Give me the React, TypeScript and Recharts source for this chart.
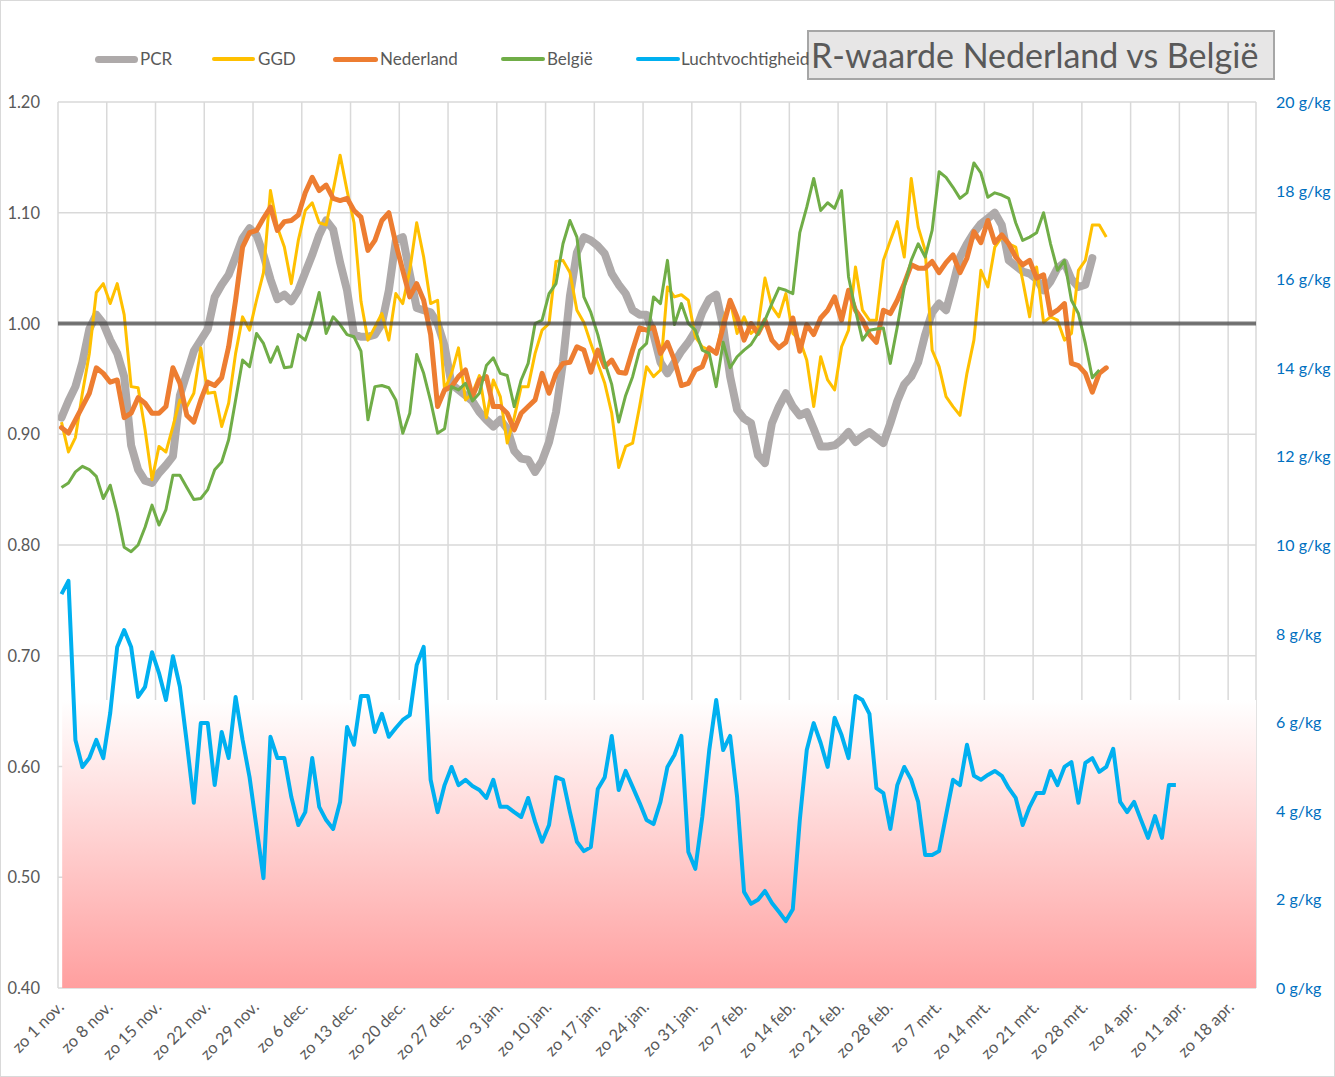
import React from "react";
import {
  ComposedChart,
  Line,
  XAxis,
  YAxis,
  CartesianGrid,
  ReferenceLine,
  ReferenceArea,
} from "recharts";

// Day index 0 = zondag 1 november; 172 day slots on the date axis (points centred in their slot)
const tickLabels = [
  "zo 1 nov.", "zo 8 nov.", "zo 15 nov.", "zo 22 nov.", "zo 29 nov.",
  "zo 6 dec.", "zo 13 dec.", "zo 20 dec.", "zo 27 dec.", "zo 3 jan.",
  "zo 10 jan.", "zo 17 jan.", "zo 24 jan.", "zo 31 jan.", "zo 7 feb.",
  "zo 14 feb.", "zo 21 feb.", "zo 28 feb.", "zo 7 mrt.", "zo 14 mrt.",
  "zo 21 mrt.", "zo 28 mrt.", "zo 4 apr.", "zo 11 apr.", "zo 18 apr.",
];
const tickDays = [0, 7, 14, 21, 28, 35, 42, 49, 56, 63, 70, 77, 84, 91, 98, 105, 112, 119, 126, 133, 140, 147, 154, 161, 168];
const daySlots = 172;

const pcr = [
  0.915, 0.93, 0.943, 0.965, 0.995, 1.008, 1.0, 0.985, 0.973, 0.952,
  0.89, 0.868, 0.858, 0.856, 0.865, 0.872, 0.88, 0.935, 0.955, 0.975,
  0.985, 0.995, 1.024, 1.035, 1.044, 1.06, 1.077, 1.086, 1.08, 1.062,
  1.04, 1.022, 1.026, 1.02, 1.03, 1.046, 1.062, 1.08, 1.093, 1.085,
  1.055, 1.03, 0.99, 0.988, 0.988, 0.99, 1.0, 1.03, 1.075, 1.078,
  1.045, 1.014, 1.012, 1.01, 1.0, 0.98, 0.945, 0.94, 0.935, 0.93,
  0.92, 0.913, 0.907, 0.913, 0.905, 0.885, 0.878, 0.877, 0.866, 0.876,
  0.893, 0.92, 0.965, 1.025, 1.064, 1.078, 1.075, 1.07, 1.063, 1.045,
  1.035, 1.027, 1.012, 1.008, 1.008, 0.99, 0.965, 0.955, 0.965, 0.975,
  0.983, 0.993, 1.01, 1.022, 1.026, 0.997, 0.952, 0.922, 0.914, 0.91,
  0.881, 0.874, 0.91, 0.925, 0.937, 0.925, 0.917, 0.92, 0.905, 0.889,
  0.889, 0.89, 0.895, 0.902, 0.893, 0.898, 0.902, 0.897, 0.892, 0.91,
  0.93, 0.945, 0.952, 0.965, 0.99, 1.01, 1.018, 1.012, 1.035, 1.06,
  1.072, 1.082, 1.09, 1.095, 1.1, 1.089, 1.057, 1.052, 1.047, 1.045,
  1.04, 1.03, 1.038, 1.05, 1.055, 1.04, 1.033, 1.035, 1.059,
];

const ggd = [
  0.911, 0.884, 0.897, 0.937, 0.973, 1.028, 1.036, 1.018, 1.036, 1.008,
  0.943, 0.942, 0.904, 0.859, 0.889, 0.884, 0.907, 0.931, 0.925, 0.937,
  0.978, 0.937, 0.938, 0.907, 0.928, 0.973, 1.006, 0.994, 1.021, 1.046,
  1.12, 1.087, 1.069, 1.036, 1.075, 1.102, 1.109, 1.091, 1.089, 1.12,
  1.152, 1.12, 1.091, 1.02, 0.985, 0.997, 1.009, 0.985, 1.027, 1.018,
  1.048, 1.091, 1.06, 1.018, 1.021, 0.94, 0.955, 0.978, 0.931, 0.937,
  0.953, 0.915, 0.949, 0.934, 0.892, 0.915, 0.943, 0.943, 0.973, 0.994,
  1.0, 1.056, 1.057, 1.046, 1.012, 1.001, 0.982, 0.964, 0.946, 0.919,
  0.87, 0.889, 0.892, 0.925, 0.961, 0.952, 0.958, 1.033, 1.024, 1.026,
  1.021, 0.988, 0.979, 0.976, 0.973, 1.003, 1.021, 0.991, 1.006, 0.991,
  0.997, 1.041, 1.015, 1.006, 1.027, 0.991, 0.985, 0.967, 0.925, 0.97,
  0.949, 0.94, 0.979, 0.994, 1.051, 1.012, 1.003, 1.003, 1.057, 1.075,
  1.092, 1.06, 1.131, 1.087, 1.066, 0.976, 0.961, 0.934, 0.925, 0.917,
  0.955, 0.985, 1.048, 1.033, 1.069, 1.078, 1.072, 1.069, 1.039, 1.006,
  1.051, 1.001, 1.006, 1.003, 0.985, 0.991, 1.048, 1.057, 1.089, 1.089,
  1.078,
];

const nederland = [
  0.906, 0.901, 0.913, 0.925, 0.937, 0.96, 0.955, 0.947, 0.949, 0.915,
  0.919, 0.933, 0.928, 0.919, 0.919, 0.925, 0.96, 0.946, 0.917, 0.911,
  0.931, 0.947, 0.944, 0.951, 0.979, 1.021, 1.069, 1.082, 1.084, 1.095,
  1.105, 1.084, 1.092, 1.093, 1.098, 1.118, 1.132, 1.12, 1.125, 1.113,
  1.111, 1.113, 1.102, 1.096, 1.066, 1.075, 1.093, 1.1, 1.072, 1.048,
  1.024, 1.036, 1.021, 0.99, 0.925, 0.94, 0.943, 0.952, 0.958, 0.934,
  0.949, 0.952, 0.925, 0.925, 0.919, 0.904, 0.919, 0.925, 0.931, 0.955,
  0.937, 0.955, 0.964, 0.965, 0.979, 0.976, 0.956, 0.976, 0.961, 0.967,
  0.956, 0.955, 0.976, 0.996, 0.994, 0.997, 0.973, 0.983, 0.967, 0.944,
  0.946, 0.958, 0.961, 0.978, 0.973, 0.997, 1.021, 1.006, 0.985, 1.0,
  0.991, 1.003, 0.985, 0.978, 0.983, 1.005, 0.975, 0.999, 0.99, 1.005,
  1.012, 1.024, 1.003, 1.03, 1.012, 1.003, 0.99, 0.983, 1.012, 1.009,
  1.021, 1.036, 1.053, 1.05, 1.05, 1.056, 1.046, 1.055, 1.062, 1.046,
  1.059, 1.083, 1.073, 1.093, 1.073, 1.08, 1.072, 1.06, 1.053, 1.057,
  1.041, 1.044, 1.008, 1.012, 1.018, 0.964, 0.962, 0.955, 0.938, 0.955,
  0.96,
];

const belgie = [
  0.852, 0.856, 0.866, 0.871, 0.868, 0.862, 0.842, 0.854, 0.829, 0.798,
  0.794, 0.8, 0.816, 0.836, 0.818, 0.832, 0.863, 0.863, 0.852, 0.841,
  0.842, 0.85, 0.868, 0.875, 0.895, 0.931, 0.967, 0.961, 0.991, 0.982,
  0.965, 0.979, 0.96, 0.961, 0.99, 0.985, 1.003, 1.028, 0.991, 1.006,
  0.999, 0.99, 0.988, 0.975, 0.913, 0.943, 0.944, 0.942, 0.931, 0.901,
  0.919, 0.972, 0.955, 0.93, 0.901, 0.905, 0.943, 0.94, 0.946, 0.93,
  0.937, 0.962, 0.969, 0.955, 0.953, 0.925, 0.949, 0.964, 1.0, 1.003,
  1.027, 1.036, 1.072, 1.093, 1.078, 1.024, 1.01, 0.99, 0.965, 0.945,
  0.911, 0.935, 0.952, 0.976, 0.982, 1.024, 1.018, 1.057, 0.999, 1.018,
  1.0, 0.994, 0.976, 0.973, 0.943, 0.983, 0.96, 0.97, 0.976, 0.981,
  0.991, 1.003, 1.018, 1.032, 1.03, 1.027, 1.082, 1.105, 1.131, 1.102,
  1.109, 1.104, 1.12, 1.042, 1.012, 0.985, 0.994, 0.995, 0.996, 0.964,
  0.997, 1.033, 1.057, 1.072, 1.06, 1.084, 1.137, 1.132, 1.123, 1.113,
  1.118, 1.145, 1.136, 1.114, 1.118, 1.116, 1.113, 1.091, 1.075, 1.078,
  1.082, 1.1, 1.072, 1.048, 1.057, 1.021, 1.009, 0.982, 0.951, 0.958,
];

// Luchtvochtigheid in g/kg (right axis)
const luchtvochtigheid = [
  8.89, 9.19, 5.6, 4.99, 5.19, 5.6, 5.19, 6.21, 7.7, 8.08,
  7.7, 6.57, 6.8, 7.58, 7.11, 6.5, 7.49, 6.8, 5.53, 4.18,
  5.98, 5.98, 4.58, 5.78, 5.19, 6.57, 5.6, 4.76, 3.63, 2.48,
  5.67, 5.19, 5.19, 4.31, 3.68, 3.97, 5.19, 4.09, 3.79, 3.59,
  4.2, 5.89, 5.49, 6.59, 6.59, 5.78, 6.19, 5.67, 5.87, 6.05,
  6.16, 7.29, 7.7, 4.7, 3.97, 4.58, 4.99, 4.58, 4.7, 4.56,
  4.47, 4.29, 4.7, 4.09, 4.09, 3.97, 3.86, 4.29, 3.75, 3.3,
  3.68, 4.76, 4.7, 3.97, 3.3, 3.09, 3.18, 4.49, 4.76, 5.69,
  4.47, 4.9, 4.54, 4.18, 3.79, 3.7, 4.2, 4.99, 5.26, 5.69,
  3.07, 2.69, 3.86, 5.37, 6.5, 5.37, 5.69, 4.31, 2.17, 1.9,
  1.99, 2.19, 1.92, 1.72, 1.51, 1.78, 3.79, 5.37, 5.98, 5.53,
  4.99, 6.1, 5.71, 5.19, 6.59, 6.5, 6.19, 4.51, 4.4, 3.59,
  4.58, 4.99, 4.7, 4.2, 3.0, 3.0, 3.09, 3.9, 4.7, 4.58,
  5.49, 4.79, 4.7, 4.81, 4.9, 4.79, 4.51, 4.29, 3.68, 4.09,
  4.4, 4.4, 4.9, 4.58, 4.99, 5.1, 4.18, 5.08, 5.19, 4.88,
  4.99, 5.4, 4.2, 3.97, 4.2, 3.79, 3.39, 3.88, 3.39, 4.58,
  4.58,
];

const leftTicks = [0.4, 0.5, 0.6, 0.7, 0.8, 0.9, 1.0, 1.1, 1.2];
const rightTicks = [0, 2, 4, 6, 8, 10, 12, 14, 16, 18, 20];
const humidityLimit = 6.5;

const legendItems = [
  { name: "PCR", color: "#AEAAAA", width: 7 },
  { name: "GGD", color: "#FFC000", width: 4 },
  { name: "Nederland", color: "#ED7D31", width: 5 },
  { name: "België", color: "#70AD47", width: 4 },
  { name: "Luchtvochtigheid", color: "#00B0F0", width: 4 },
];

// each day is drawn in the middle of its slot on the date axis
const data = Array.from({ length: daySlots }, (_, i) => ({
  x: i + 0.5,
  pcr: pcr[i],
  ggd: ggd[i],
  nederland: nederland[i],
  belgie: belgie[i],
  lucht: luchtvochtigheid[i],
}));

const FONT = "Lato, 'Open Sans', sans-serif";

const LeftTick = (props: any) => {
  const { y, payload } = props;
  return (
    <text x={40} y={y + 6} fontSize={16.5} fontFamily={FONT} fill="#595959" textAnchor="end">
      {Number(payload.value).toFixed(2)}
    </text>
  );
};

const RightTick = (props: any) => {
  const { y, payload } = props;
  return (
    <text x={1276} y={y + 6} fontSize={16} fontFamily={FONT} fill="#0070C0" textAnchor="start">
      {`${payload.value} g/kg`}
    </text>
  );
};

const BottomTick = (props: any) => {
  const { x, payload } = props;
  const idx = tickDays.indexOf(payload.value);
  const label = idx >= 0 ? tickLabels[idx] : "";
  const px = x + 7;
  const py = 1008;
  return (
    <text
      x={px}
      y={py}
      fontSize={16.5}
      fontFamily={FONT}
      fill="#595959"
      textAnchor="end"
      transform={`rotate(-45 ${px} ${py})`}
    >
      {label}
    </text>
  );
};

const positions = [
  { lx: 95, lw: 43, tx: 140 },
  { lx: 212, lw: 43, tx: 258 },
  { lx: 333, lw: 45, tx: 380 },
  { lx: 501, lw: 44, tx: 547 },
  { lx: 636, lw: 44, tx: 681 },
];

export default function App() {
  return (
    <div
      style={{
        position: "absolute",
        left: 0,
        top: 0,
        width: 1335,
        height: 1077,
        background: "#fff",
      }}
    >
      <svg width={0} height={0} style={{ position: "absolute" }}>
        <defs>
          <linearGradient id="pinkGrad" x1="0" y1="0" x2="0" y2="1">
            <stop offset="0%" stopColor="#FFFFFF" />
            <stop offset="100%" stopColor="#FF9F9F" />
          </linearGradient>
        </defs>
      </svg>
      <div style={{ position: "absolute", left: 0, top: 0 }}>
        <ComposedChart
          width={1335}
          height={1077}
          data={data}
          margin={{ top: 102, right: 7, bottom: 9, left: 8 }}
        >
          <CartesianGrid yAxisId="r" stroke="#D9D9D9" strokeWidth={1.5} />
          <XAxis
            dataKey="x"
            type="number"
            domain={[0, daySlots]}
            ticks={tickDays}
            interval={0}
            height={80}
            axisLine={false}
            tickLine={false}
            tick={<BottomTick />}
            allowDataOverflow
          />
          <YAxis
            yAxisId="r"
            orientation="left"
            domain={[0.4, 1.2]}
            ticks={leftTicks}
            width={50}
            axisLine={false}
            tickLine={false}
            tick={<LeftTick />}
            allowDataOverflow
          />
          <YAxis
            yAxisId="h"
            orientation="right"
            domain={[0, 20]}
            ticks={rightTicks}
            width={72}
            axisLine={false}
            tickLine={false}
            tick={<RightTick />}
            allowDataOverflow
          />
          <ReferenceArea
            yAxisId="h"
            x1={0.6}
            x2={daySlots}
            y1={0}
            y2={humidityLimit}
            fill="url(#pinkGrad)"
            fillOpacity={1}
            stroke="none"
            ifOverflow="visible"
          />
          <Line yAxisId="r" dataKey="pcr" stroke="#AEAAAA" strokeWidth={8} dot={false} activeDot={false} isAnimationActive={false} strokeLinejoin="round" strokeLinecap="round" />
          <Line yAxisId="r" dataKey="ggd" stroke="#FFC000" strokeWidth={3} dot={false} activeDot={false} isAnimationActive={false} strokeLinejoin="round" />
          <Line yAxisId="r" dataKey="nederland" stroke="#ED7D31" strokeWidth={5} dot={false} activeDot={false} isAnimationActive={false} strokeLinejoin="round" strokeLinecap="round" />
          <Line yAxisId="r" dataKey="belgie" stroke="#70AD47" strokeWidth={3} dot={false} activeDot={false} isAnimationActive={false} strokeLinejoin="round" />
          <Line yAxisId="h" dataKey="lucht" stroke="#00B0F0" strokeWidth={4} dot={false} activeDot={false} isAnimationActive={false} strokeLinejoin="round" />
          <ReferenceLine yAxisId="r" y={1.0} stroke="#404040" strokeOpacity={0.7} strokeWidth={4} ifOverflow="visible" />
        </ComposedChart>
      </div>

      {/* outer chart-area frame */}
      <div
        style={{
          position: "absolute",
          left: 0,
          top: 0,
          width: 1335,
          height: 1077,
          boxSizing: "border-box",
          border: "1.5px solid #D9D9D9",
          pointerEvents: "none",
        }}
      />

      <div
        style={{
          position: "absolute",
          left: 807,
          top: 30,
          width: 468,
          height: 50,
          boxSizing: "border-box",
          background: "#E7E6E6",
          border: "2px solid #A6A6A6",
          fontFamily: FONT,
          fontSize: 34,
          color: "#595959",
          lineHeight: "46px",
          paddingLeft: 2,
          whiteSpace: "nowrap",
          overflow: "hidden",
        }}
      >
        R-waarde Nederland vs België
      </div>

      {legendItems.map((item, i) => (
        <div key={item.name}>
          <div
            style={{
              position: "absolute",
              left: positions[i].lx,
              top: 59 - item.width / 2,
              width: positions[i].lw,
              height: item.width,
              borderRadius: item.width / 2,
              background: item.color,
            }}
          />
          <div
            style={{
              position: "absolute",
              left: positions[i].tx,
              top: 48,
              fontFamily: FONT,
              fontSize: 17,
              color: "#595959",
              lineHeight: "22px",
              whiteSpace: "nowrap",
            }}
          >
            {item.name}
          </div>
        </div>
      ))}
    </div>
  );
}
